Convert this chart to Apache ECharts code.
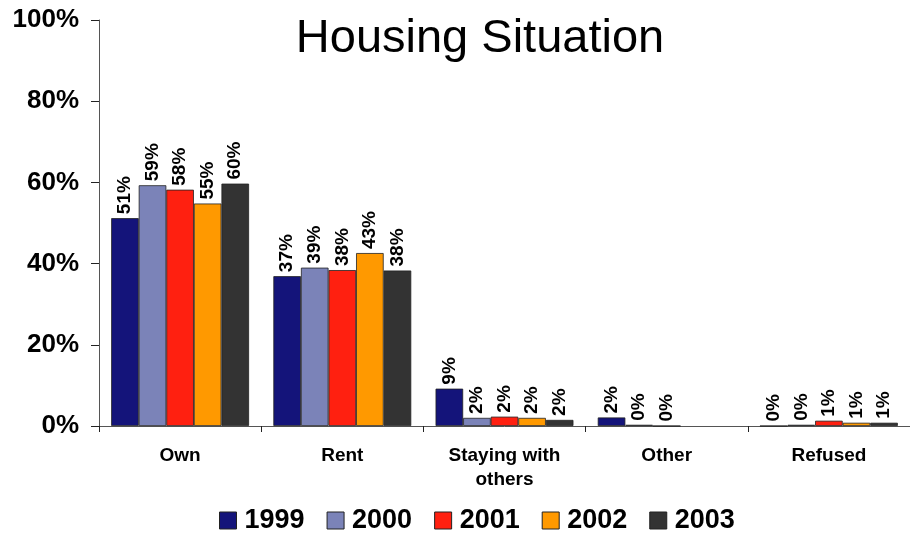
<!DOCTYPE html>
<html>
<head>
<meta charset="utf-8">
<script src="https://cdn.jsdelivr.net/npm/echarts@6/dist/echarts.min.js"></script>
<style>
  html, body { margin: 0; padding: 0; background: #fff; }
  #chart { width: 910px; height: 541px; }
</style>
</head>
<body>
<div id="chart"></div>
<script>
// categories and series values (percent)
const categories = ['Own', 'Rent', 'Staying with\nothers', 'Other', 'Refused'];
const years = ['1999', '2000', '2001', '2002', '2003'];
const v1999 = [51.2, 36.9, 9.2, 2.1, 0];
const v2000 = [59.3, 39.0, 2.0, 0.3, 0.3];
const v2001 = [58.2, 38.4, 2.3, 0, 1.3];
const v2002 = [54.8, 42.6, 2.0, null, 0.8];
const v2003 = [59.7, 38.3, 1.5, null, 0.8];
const colors = ['#14147a', '#7b83b8', '#ff2010', '#ff9900', '#333333'];

const allValues = [v1999, v2000, v2001, v2002, v2003];
const font = 'Liberation Sans, Arial, sans-serif';

let chart = echarts.init(document.getElementById('chart'));

const series = years.map((y, i) => {
  return {
    name: y,
    type: 'bar',
    data: allValues[i],
    barGap: '0%',
    barCategoryGap: '15%',
    itemStyle: {
      color: colors[i],
      borderColor: '#222',
      borderWidth: 0.8
    },
    label: {
      show: true,
      position: 'top',
      rotate: 90,
      align: 'left',
      verticalAlign: 'middle',
      distance: 4,
      color: '#000',
      fontFamily: font,
      fontWeight: 'bold',
      fontSize: 19,
      formatter: p => (p.value == null ? '' : Math.round(p.value) + '%')
    }
  }
});

let option = {
  animation: false,
  title: {
    text: 'Housing Situation',
    left: 475,
    textAlign: 'center',
    top: 11,
    textStyle: {
      fontFamily: font,
      fontWeight: 'normal',
      fontSize: 47,
      color: '#000'
    }
  },
  legend: {
    data: years,
    bottom: 2,
    left: 214,
    icon: 'rect',
    itemWidth: 17,
    itemHeight: 17,
    itemGap: 22,
    textStyle: {
      fontFamily: font,
      fontWeight: 'bold',
      fontSize: 27,
      color: '#000',
      padding: [0, 0, 0, 3]
    },
    itemStyle: {
      borderColor: '#222',
      borderWidth: 1
    }
  },
  grid: {
    left: 99,
    right: -3,
    top: 20,
    bottom: 115
  },
  xAxis: {
    type: 'category',
    data: categories,
    axisLine: { lineStyle: { color: '#555', width: 1 } },
    axisTick: { show: true, length: 6, lineStyle: { color: '#222' } },
    axisLabel: {
      interval: 0,
      margin: 18,
      color: '#000',
      fontFamily: font,
      fontWeight: 'bold',
      fontSize: 19,
      lineHeight: 24
    }
  },
  yAxis: {
    type: 'value',
    min: 0,
    max: 100,
    interval: 20,
    splitLine: { show: false },
    axisLine: { show: true, lineStyle: { color: '#555', width: 1 } },
    axisTick: { show: true, length: 8, lineStyle: { color: '#222' } },
    axisLabel: {
      margin: 20,
      color: '#000',
      fontFamily: font,
      fontWeight: 'bold',
      fontSize: 26,
      formatter: '{value}%'
    }
  },
  series: series
};

chart.setOption(option);
</script>
</body>
</html>
